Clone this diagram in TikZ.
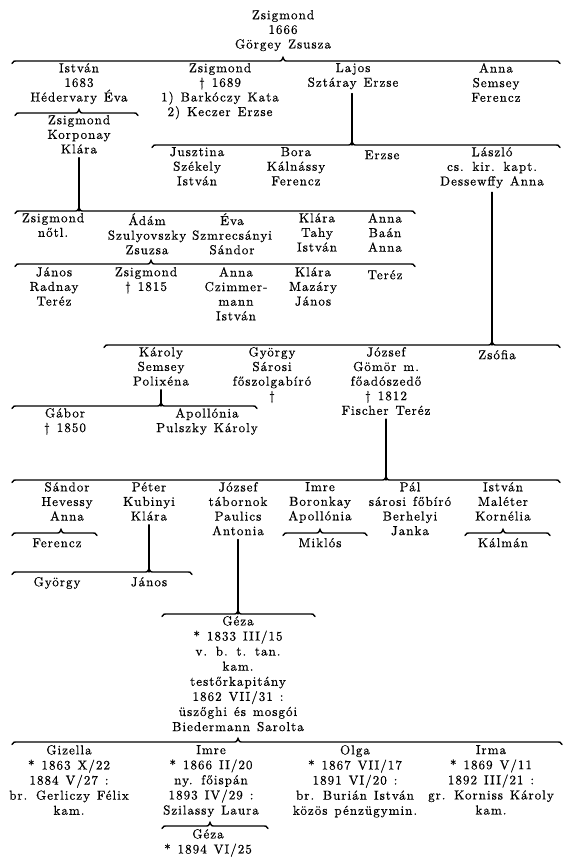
\documentclass[tikz,border=0pt]{standalone}
\usepackage{fontspec}
\newfontfamily\scanfont{lmroman10-regular.otf}[LetterSpace=8, WordSpace=1.3, FakeBold=0.6]
\newcommand\tf{\scanfont\fontsize{13}{14.6}\selectfont}
\newcommand\gf{\scanfont\fontsize{13}{15.1}\selectfont}
\tikzset{
  pn/.style={align=center, inner sep=0pt, anchor=north, font=\tf,
    execute at begin node={\rule{0pt}{12pt}}},
  ln/.style={line width=1.4pt, black, line cap=round},
}
% #1 name, #2 y, #3 x left, #4 x notch, #5 x right
\newcommand\gbr[5]{%
  \coordinate (#1) at (#4,#2);
  \draw[ln] (#3,#2+2.5) .. controls (#3+1.5,#2) .. (#3+6,#2) -- (#4-5,#2)
    .. controls (#4-1.5,#2) .. (#4,#2-3.5) .. controls (#4+1.5,#2) .. (#4+5,#2)
    -- (#5-6,#2) .. controls (#5-1.5,#2) .. (#5,#2+2.5);}
% #1 name, #2 x, #3 first baseline, #4 text
\newcommand\pn[4]{\node[pn] (#1) at (#2,#3-12) {#4};}
\newcommand\vl[2]{\draw[ln] (#2 |- #1.south) ++(0,4) -- (#2);}
\begin{document}
\begin{tikzpicture}[x=1pt,y=-1pt]
\useasboundingbox[fill=white] (0,0) rectangle (571,868);
% generation 0
\pn{n0}{283}{22}{Zsigmond\\1666\\Görgey Zsusza}
\gbr{bA}{61}{12}{283}{560}
% generation 1
\pn{a1}{79}{75}{István\\1683\\Hédervary Éva}
\pn{a2}{220}{75}{Zsigmond\\† 1689\\1) Barkóczy Kata\\2) Keczer Erzse}
\pn{a3}{353}{75}{Lajos\\Sztáray Erzse}
\pn{a4}{496}{75}{Anna\\Semsey\\Ferencz}
\gbr{bB}{113}{15}{79}{138}
\pn{b1}{79}{127}{Zsigmond\\Korponay\\Klára}
\gbr{bC}{145}{152}{352}{560}
\vl{a3}{bC}
\pn{c1}{197}{159}{Jusztina\\Székely\\István}
\pn{c2}{296}{159}{Bora\\Kálnássy\\Ferencz}
\pn{c3}{382}{159}{Erzse}
\pn{c4}{492}{159}{László\\cs. kir. kapt.\\Dessewffy Anna}
\gbr{bD}{211}{15}{79}{415}
\vl{b1}{bD}
\pn{d1}{53}{225}{Zsigmond\\nőtl.}
\pn{d2}{147}{225}{Ádám\\Szulyovszky\\Zsuzsa}
\pn{d3}{232}{225}{Éva\\Szmrecsányi\\Sándor}
\pn{d4}{317}{225}{Klára\\Tahy\\István}
\pn{d5}{385}{225}{Anna\\Baán\\Anna}
\gbr{bE}{264}{15}{151}{415}
\pn{e1}{54}{279}{János\\Radnay\\Teréz}
\pn{e2}{146}{279}{Zsigmond\\† 1815}
\pn{e3}{236}{279}{Anna\\Czimmer-\\mann\\István}
\pn{e4}{313}{279}{Klára\\Mazáry\\János}
\pn{e5}{385}{279}{Teréz}
% László's line
\gbr{bF}{345}{104}{492}{560}
\vl{c4}{bF}
\pn{f1}{161}{359}{Károly\\Semsey\\Polixéna}
\pn{f2}{272}{359}{György\\Sárosi\\főszolgabíró\\†}
\pn{f3}{386}{359}{József\\Gömör m.\\főadószedő\\† 1812\\Fischer Teréz}
\pn{f4}{497}{359}{Zsófia}
\gbr{bG}{406}{12}{161}{257}
\vl{f1}{bG}
\pn{g1}{65}{420}{Gábor\\† 1850}
\pn{g2}{207}{420}{Apollónia\\Pulszky Károly}
\gbr{bH}{480}{12}{386}{560}
\vl{f3}{bH}
\pn{h1}{67}{494}{Sándor\\Hevessy\\Anna}
\pn{h2}{149}{494}{Péter\\Kubinyi\\Klára}
\pn{h3}{238}{494}{József\\tábornok\\Paulics\\Antonia}
\pn{h4}{320}{494}{Imre\\Boronkay\\Apollónia}
\pn{h5}{410}{494}{Pál\\sárosi főbíró\\Berhelyi\\Janka}
\pn{h6}{503}{494}{István\\Maléter\\Kornélia}
\gbr{bI1}{533}{12}{61}{97}
\gbr{bI2}{533}{283}{320}{367}
\gbr{bI3}{533}{465}{503}{550}
\pn{i1}{57}{547}{Ferencz}
\pn{i2}{320}{547}{Miklós}
\pn{i3}{503}{547}{Kálmán}
\gbr{bJ}{572}{12}{149}{192}
\vl{h2}{bJ}
\pn{j1}{57}{586}{György}
\pn{j2}{149}{586}{János}
\gbr{bK}{614}{162}{238}{315}
\vl{h3}{bK}
\node[pn, font=\gf] (k1) at (238,628-12) {Géza\\* 1833 III/15\\v. b. t. tan.\\kam.\\testőrkapitány\\1862 VII/31 :\\üszőghi és mosgói\\Biedermann Sarolta};
\gbr{bL}{742}{12}{238}{562}
\node[pn, font=\gf] (l1) at (69,757-12) {Gizella\\* 1863 X/22\\1884 V/27 :\\br. Gerliczy Félix\\kam.};
\node[pn, font=\gf] (l2) at (211,757-12) {Imre\\* 1866 II/20\\ny. főispán\\1893 IV/29 :\\Szilassy Laura};
\node[pn, font=\gf] (l3) at (355,757-12) {Olga\\* 1867 VII/17\\1891 VI/20 :\\br. Burián István\\közös pénzügymin.};
\node[pn, font=\gf] (l4) at (491,757-12) {Irma\\* 1869 V/11\\1892 III/21 :\\gr. Korniss Károly\\kam.};
\gbr{bM}{826}{162}{210}{268}
\node[pn, font=\gf] (m1) at (208,841-12) {Géza\\* 1894 VI/25};
\end{tikzpicture}
\end{document}
